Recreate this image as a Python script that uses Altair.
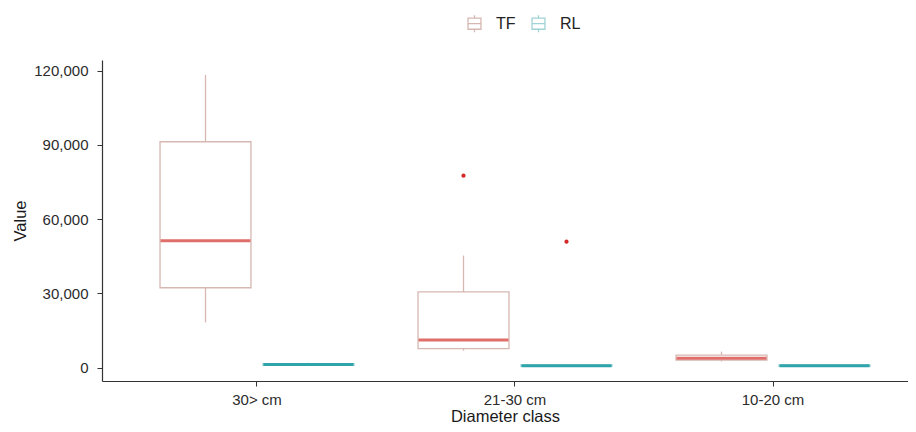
import altair as alt
import pandas as pd

categories = ["30> cm", "21-30 cm", "10-20 cm"]
groups = ["TF", "RL"]

box_cat = ["30> cm", "30> cm", "21-30 cm", "21-30 cm", "10-20 cm", "10-20 cm"]
box_grp = ["TF", "RL", "TF", "RL", "TF", "RL"]
lower = [18300, 700, 6900, 300, 2500, 300]
q1 = [32300, 1000, 7700, 500, 3100, 500]
median = [51300, 1300, 11200, 800, 3800, 800]
q3 = [91300, 1600, 30600, 1100, 5100, 1100]
upper = [118300, 2000, 45300, 1500, 6500, 1400]

out_cat = ["21-30 cm", "21-30 cm"]
out_grp = ["TF", "RL"]
out_val = [77600, 50900]

y_ticks = [0, 30000, 60000, 90000, 120000]

outline_colors = ["#d6b7b1", "#9fd3d6"]
median_colors = ["#e06e6b", "#2fa4ab"]
outlier_color = "#d42a2a"

boxes = pd.DataFrame({"cat": box_cat, "grp": box_grp, "lower": lower,
                      "q1": q1, "median": median, "q3": q3, "upper": upper})
outs = pd.DataFrame({"cat": out_cat, "grp": out_grp, "value": out_val})

xenc = alt.X("cat:N", sort=categories, title="Diameter class",
             scale=alt.Scale(paddingInner=0, paddingOuter=0.062, align=0.8125),
             axis=alt.Axis(labelAngle=0))
xoff = alt.XOffset("grp:N", sort=groups,
                   scale=alt.Scale(domain=groups, paddingInner=0.117, paddingOuter=0.311))
yscale = alt.Scale(domain=[-5370, 124320], nice=False, zero=False)
yaxis = alt.Axis(values=y_ticks, format=",.0f", labelExpr="format(datum.value, ',')")


def yenc(field):
    return alt.Y(field, type="quantitative", scale=yscale, axis=yaxis, title="Value")


box_path = "M-0.76,-0.65H0.76V0.65H-0.76Z M-0.76,0H0.76 M0,-0.65V-1 M0,0.65V1"

stroke_enc = alt.Stroke("grp:N", sort=groups,
                        scale=alt.Scale(domain=groups, range=outline_colors),
                        legend=alt.Legend(title=None, orient="none", direction="horizontal",
                                          legendX=363, legendY=-46,
                                          symbolType=box_path, symbolSize=289,
                                          symbolStrokeWidth=1.3, symbolFillColor="white",
                                          labelFontSize=16, labelColor="#222222",
                                          labelOffset=12, columnPadding=13))

base = alt.Chart(boxes)

whisk = base.mark_rule(strokeWidth=1.3).encode(
    x=xenc, xOffset=xoff,
    y=yenc("lower"),
    y2="upper:Q",
    stroke=stroke_enc,
)

rect = base.mark_bar(fill="white", strokeWidth=1.3).encode(
    x=xenc, xOffset=xoff,
    y=yenc("q1"),
    y2="q3:Q",
    stroke=stroke_enc,
)

med_layers = []
for g, c in zip(groups, median_colors):
    med_layers.append(
        base.transform_filter(alt.datum.grp == g).mark_tick(
            thickness=3, size=90, color=c, opacity=1
        ).encode(x=xenc, xOffset=xoff, y=yenc("median"))
    )

pts = alt.Chart(outs).mark_circle(size=18, opacity=1, color=outlier_color).encode(
    x=xenc, xOffset=xoff,
    y=yenc("value"),
)

chart = alt.layer(whisk, rect, *med_layers, pts).properties(
    width=806, height=321,
    autosize=alt.AutoSizeParams(type="none"),
    padding={"left": 94, "top": 52, "right": 0, "bottom": 43},
).configure_view(stroke=None).configure_axis(
    grid=False,
    domainColor="#333333",
    domainWidth=1.2,
    tickColor="#333333",
    tickSize=5,
    labelFont="Liberation Sans",
    titleFont="Liberation Sans",
    labelFontSize=15,
    labelColor="#2b2b2b",
    titleFontSize=16.5,
    titleColor="#1a1a1a",
    titleFontWeight="normal",
).configure_axisY(titlePadding=5, labelPadding=9).configure_axisX(
    titlePadding=1, labelPadding=6
).configure_legend(labelFont="Liberation Sans")

chart.save("out.html", embed_options={"renderer": "svg", "actions": False})
